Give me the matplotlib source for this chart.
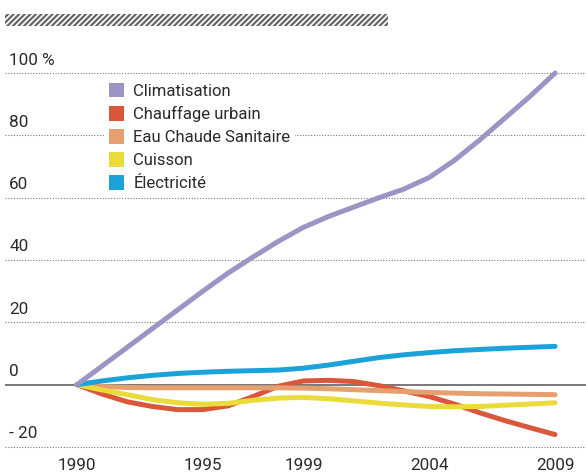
import matplotlib
matplotlib.use("Agg")
import matplotlib.pyplot as plt
from matplotlib.patches import Patch, Rectangle

plt.rcParams['font.family'] = ['Roboto', 'DejaVu Sans']
plt.rcParams['hatch.linewidth'] = 1.6

# données : évolution en % depuis 1990
annees = list(range(1990, 2010))
climatisation = [0, 6, 12, 18, 24, 30, 35.8, 41, 46, 50.5, 54, 57, 60, 62.8, 66.5, 72, 78.5, 85.5, 92.5, 100]
chauffage = [0, -3, -5.5, -7, -8, -8, -6.8, -3.8, -0.5, 1.2, 1.4, 1, -0.3, -2, -3.8, -6.2, -9, -11.5, -13.8, -16]
eau_chaude = [0, -0.6, -0.9, -1, -1, -1, -1, -1, -1, -1.1, -1.3, -1.6, -1.9, -2.2, -2.5, -2.7, -2.9, -3, -3.1, -3.2]
cuisson = [0, -1.7, -3.2, -4.8, -5.8, -6.3, -6, -5, -4.3, -4.1, -4.5, -5.2, -5.9, -6.5, -7, -7.1, -7, -6.6, -6.2, -5.8]
electricite = [0, 1.2, 2.2, 3, 3.6, 4, 4.3, 4.5, 4.7, 5.3, 6.3, 7.5, 8.7, 9.6, 10.3, 10.9, 11.3, 11.7, 12, 12.3]

noms = ["Climatisation", "Chauffage urbain", "Eau Chaude Sanitaire", "Cuisson", "Électricité"]
couleurs = ["#9b95c6", "#d9573a", "#e6a070", "#eadb3a", "#1ba3d9"]
series = [climatisation, chauffage, eau_chaude, cuisson, electricite]

y_ticks = [-20, 0, 20, 40, 60, 80, 100]
y_labels = ["- 20", "0", "20", "40", "60", "80", "100 %"]
x_ticks = [1990, 1995, 1999, 2004, 2009]

fig = plt.figure(figsize=(5.86, 4.72), dpi=100)
ax = fig.add_axes([5 / 586, 22 / 472, 581 / 586, 390 / 472])
ax.set_xlim(1987.14, 2010.23)
ax.set_ylim(-20.96, 104.2)
for s in ax.spines.values():
    s.set_visible(False)
ax.set_xticks([])
ax.set_yticks([])

# grille
for v in y_ticks:
    if v == 0:
        ax.axhline(0, color="#777777", lw=1.4, zorder=1)
    else:
        ax.axhline(v, color="#777777", lw=0.8, ls=(0, (1, 1.5)), zorder=1)

# courbes (ordre de dessin)
for i in [1, 2, 3, 4, 0]:
    ax.plot(annees, series[i], color=couleurs[i], lw=3.6, solid_capstyle="round",
            solid_joinstyle="round", zorder=3)

# étiquettes
for v, lab in zip(y_ticks, y_labels):
    ax.annotate(lab, (0, v), xycoords=("axes fraction", "data"), xytext=(3, 4),
                textcoords="offset points", fontsize=12.3, color="#2a2a2a",
                ha="left", va="bottom")
for x in x_ticks:
    fig.text((5 + (x - 1987.14) / (2010.23 - 1987.14) * 581) / 586, 6 / 472, str(x),
             fontsize=12.3, color="#2a2a2a", ha="center", va="center")

# légende
handles = [Patch(facecolor=c, edgecolor="none") for c in couleurs]
leg = fig.legend(handles, noms, loc="upper left", bbox_to_anchor=(104 / 586, 1 - 78 / 472),
                 frameon=True, fontsize=12, handlelength=0.9, handleheight=0.95,
                 handletextpad=0.55, labelspacing=0.43, borderpad=0.3, borderaxespad=0)
leg.get_frame().set_facecolor("white")
leg.get_frame().set_edgecolor("none")
leg.get_frame().set_alpha(1)
for t in leg.get_texts():
    t.set_color("#2a2a2a")

# bandeau hachuré
fig.patches.append(Rectangle((5 / 586, 1 - 26 / 472), 383 / 586, 12 / 472,
                             transform=fig.transFigure, facecolor="none",
                             edgecolor="#666666", hatch="//////", lw=0))

fig.savefig("out.png", dpi=100)
